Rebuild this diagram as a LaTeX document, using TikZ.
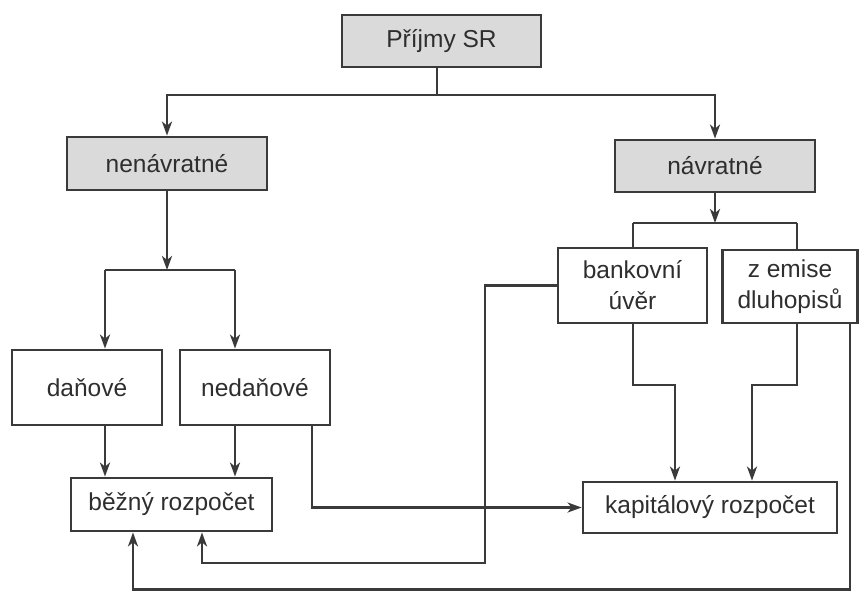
\documentclass[tikz,border=0pt]{standalone}
\usepackage{fontspec}
\setmainfont{Liberation Sans}
\usetikzlibrary{arrows.meta}
\definecolor{ln}{HTML}{3A3A3A}
\definecolor{tx}{HTML}{2E2E2E}
\definecolor{shade}{HTML}{DADADA}
\begin{document}
\begin{tikzpicture}[x=1pt,y=-1pt,
  box/.style={draw=ln,line width=2.8pt,rectangle,inner sep=0pt,text=tx,
    font=\fontsize{24.5}{31}\selectfont,align=center},
  graybox/.style={box,fill=shade},
  conn/.style={draw=ln,line width=2.5pt},
  arr/.style={conn,-{Stealth[length=14pt,width=10pt,inset=4pt]}}]
\useasboundingbox (0,0) rectangle (861,591);
% nodes
\node[graybox,minimum width=199pt,minimum height=52pt] (prijmy) at (441.5,41) {Příjmy SR};
\node[graybox,minimum width=200pt,minimum height=53pt] (nenav) at (167,163.5) {nenávratné};
\node[graybox,minimum width=200pt,minimum height=52pt] (navr) at (715,166) {návratné};
\node[box,minimum width=150pt,minimum height=75pt] (dan) at (87,387.5) {daňové};
\node[box,minimum width=150pt,minimum height=75pt] (nedan) at (255,387.5) {nedaňové};
\node[box,minimum width=149pt,minimum height=75pt] (bank) at (632.5,285.5) {bankovní\\úvěr};
\node[box,minimum width=135pt,minimum height=73pt] (emise) at (790,286.5) {z emise\\dluhopisů};
\node[box,minimum width=201pt,minimum height=53pt] (bezny) at (171.5,504.5) {běžný rozpočet};
\node[box,minimum width=254pt,minimum height=51pt] (kap) at (710,507.5) {kapitálový rozpočet};
% junction coordinates
\coordinate (c1) at (437,95);
\coordinate (c4) at (167,270);
\coordinate (xa) at (105,270);
\coordinate (xb) at (235,270);
\coordinate (xn) at (312,505);
\coordinate (c5) at (715,223);
\coordinate (xc) at (633,223);
\coordinate (xd) at (797,223);
\coordinate (k1) at (675,385);
\coordinate (k2) at (752,385);
\coordinate (b1) at (485,563);
\coordinate (b2) at (202,563);
\coordinate (e1) at (850,589.5);
\coordinate (e2) at (133,589.5);
% top level
\draw[conn] (prijmy.south -| c1) -- (c1);
\draw[arr] (c1) -| (nenav.north);
\draw[arr] (c1) -| (navr.north);
% left branch
\draw[arr] (nenav.south) -- (c4);
\draw[conn] (xa) -- (xb);
\draw[arr] (xa) -- (xa |- dan.north);
\draw[arr] (xb) -- (xb |- nedan.north);
\draw[arr] (dan.south -| xa) -- (bezny.north -| xa);
\draw[arr] (nedan.south -| xb) -- (bezny.north -| xb);
\draw[arr] (nedan.south -| xn) |- (kap.west);
% right branch
\draw[arr] (navr.south) -- (c5);
\draw[conn] (xc) -- (xd);
\draw[conn] (xc) -- (xc |- bank.north);
\draw[conn] (xd) -- (xd |- emise.north);
\draw[arr] (bank.south -| xc) |- (k1) -- (k1 |- kap.north);
\draw[arr] (emise.south -| xd) |- (k2) -- (k2 |- kap.north);
% feedback to current budget
\draw[arr] (bank.west) -| (b1) -- (b2) -- (b2 |- bezny.south);
\draw[arr] (emise.south -| e1) -- (e1) -- (e2) -- (e2 |- bezny.south);
\end{tikzpicture}
\end{document}
